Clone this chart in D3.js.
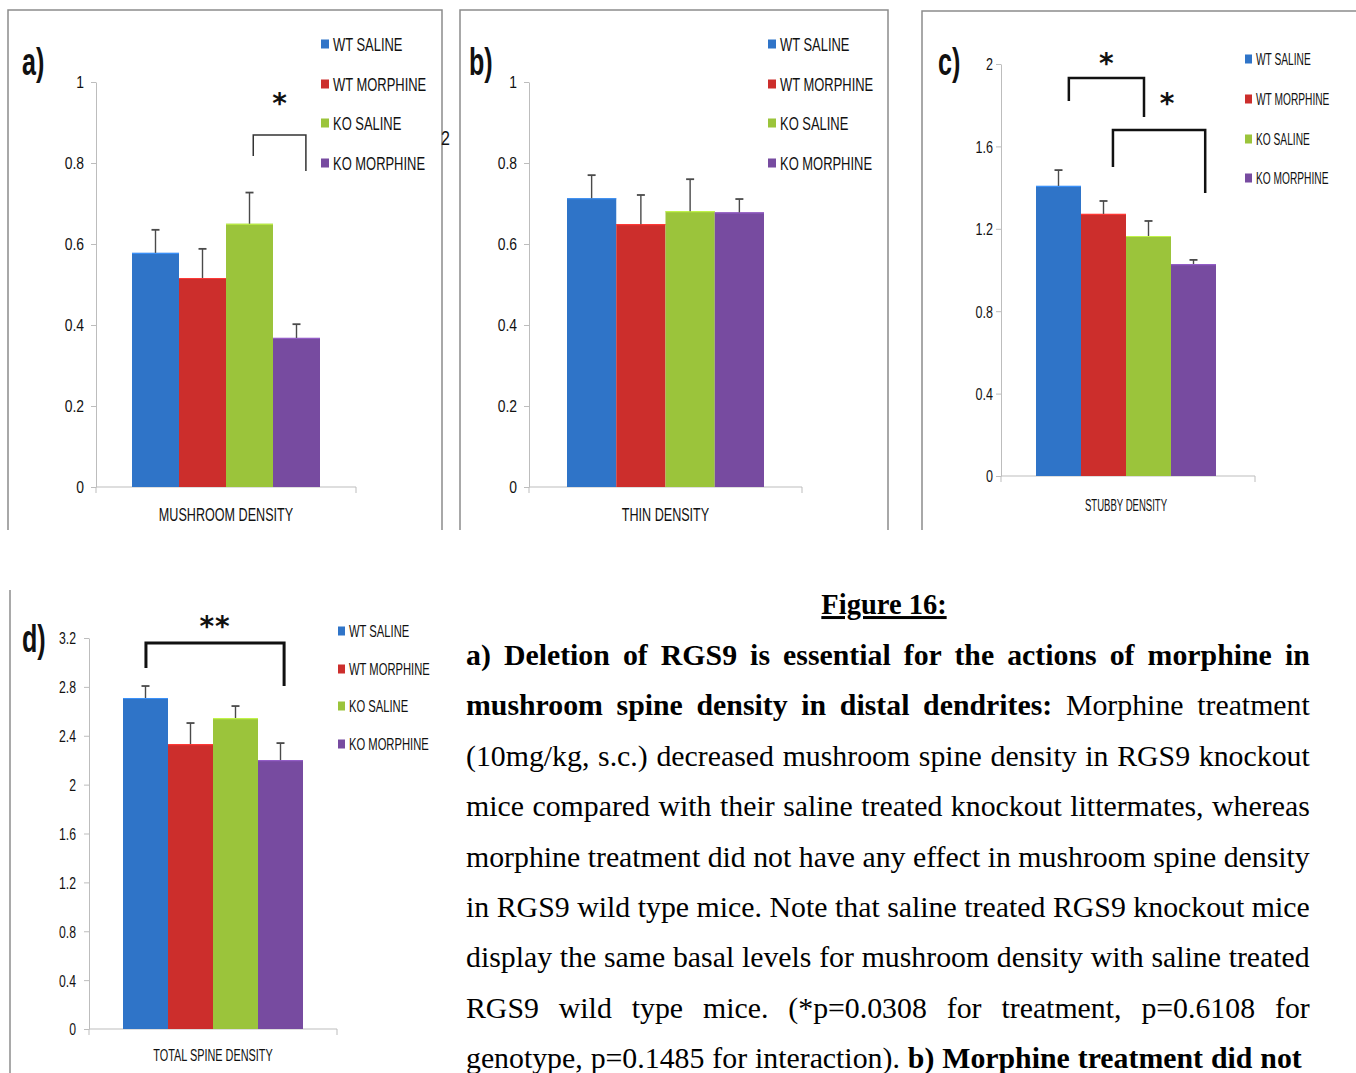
<!DOCTYPE html>
<html>
<head>
<meta charset="utf-8">
<script src="https://cdn.jsdelivr.net/npm/d3@7"></script>
<style>
  body { margin: 0; background: #fff; }
  svg { display: block; }
</style>
</head>
<body>
<div id="chart"></div>
<script>
// groups + colours
var groups = ["WT SALINE", "WT MORPHINE", "KO SALINE", "KO MORPHINE"];
var colors = ["#2f74c8", "#cc2e2c", "#9bc43b", "#774ba0"];

// values (mean, upper error)
var mushroomMean = [0.578, 0.516, 0.650, 0.368];
var mushroomErr  = [0.057, 0.072, 0.077, 0.034];
var thinMean = [0.713, 0.649, 0.681, 0.678];
var thinErr  = [0.057, 0.072, 0.079, 0.033];
var stubbyMean = [1.408, 1.272, 1.165, 1.029];
var stubbyErr  = [0.077, 0.063, 0.073, 0.020];
var totalMean = [2.709, 2.332, 2.545, 2.201];
var totalErr  = [0.098, 0.172, 0.098, 0.139];

// tick labels
var ticksAB = [0, 0.2, 0.4, 0.6, 0.8, 1];
var ticksC = [0, 0.4, 0.8, 1.2, 1.6, 2];
var ticksD = [0, 0.4, 0.8, 1.2, 1.6, 2, 2.4, 2.8, 3.2];

// caption lines, 1 = bold
var caption = [
  [["a) Deletion of RGS9 is essential for the actions of morphine in", 1]],
  [["mushroom spine density  in distal dendrites:", 1], [" Morphine treatment", 0]],
  [["(10mg/kg, s.c.) decreased mushroom spine density in RGS9 knockout", 0]],
  [["mice compared with their saline treated knockout littermates, whereas", 0]],
  [["morphine treatment did not have any effect in mushroom spine density", 0]],
  [["in RGS9 wild type mice. Note that saline treated RGS9 knockout mice", 0]],
  [["display the same basal levels for mushroom density with saline treated", 0]],
  [["RGS9 wild type mice. (*p=0.0308 for treatment, p=0.6108 for", 0]],
  [["genotype, p=0.1485 for interaction). ", 0], ["b) Morphine treatment did not", 1]]
];

var width = 1356, height = 1073;
var sans = "'Liberation Sans Narrow', 'Liberation Sans', sans-serif";

var svg = d3.select("#chart").append("svg")
  .attr("width", width)
  .attr("height", height);

svg.append("rect").attr("width", width).attr("height", height).attr("fill", "#fff");

// squeezed text helper
function txt(g, x, y, s, size, sx, anchor, weight) {
  return g.append("text")
    .attr("transform", "translate(" + x + "," + y + ") scale(" + sx + ",1)")
    .attr("text-anchor", anchor || "start")
    .attr("font-family", sans)
    .attr("font-size", size)
    .attr("font-weight", weight || "normal")
    .attr("fill", "#111")
    .text(s);
}

function panel(cfg) {
  var g = svg.append("g");

  // frame, open at the bottom (cut off in the page)
  if (cfg.frame) {
    var f = cfg.frame;
    g.append("path")
      .attr("d", "M" + f[0] + "," + f[3] + "V" + f[1] + "H" + f[2] + "V" + f[3])
      .attr("fill", "none").attr("stroke", "#8c8c8c").attr("stroke-width", 1.5);
  }

  var y = d3.scaleLinear().domain([0, cfg.max]).range([cfg.y0, cfg.yTop]);
  var x = d3.scaleBand().domain(groups).range([cfg.barL, cfg.barR]).paddingInner(0);

  // y axis
  var ya = g.append("g")
    .attr("transform", "translate(" + cfg.axisX + ",0)")
    .call(d3.axisLeft(y).tickValues(cfg.ticks).tickSizeInner(5).tickSizeOuter(0)
      .tickFormat(function (d) { return String(d) }));
  ya.select(".domain").attr("stroke", "#bdbdbd");
  ya.selectAll(".tick line").attr("stroke", "#bdbdbd");
  ya.selectAll(".tick text")
    .attr("x", null)
    .attr("transform", "translate(" + (-cfg.tickPad) + ",0) scale(" + cfg.tickSx + ",1)")
    .attr("dy", "0.35em")
    .attr("font-family", sans)
    .attr("font-size", cfg.tickSize)
    .attr("fill", "#111");

  // x axis line with end ticks
  g.append("path")
    .attr("d", "M" + cfg.axisX + "," + (cfg.y0 + 6) + "V" + cfg.y0 + "H" + cfg.xEnd + "V" + (cfg.y0 + 6))
    .attr("fill", "none").attr("stroke", "#bdbdbd").attr("stroke-width", 1);

  var rows = groups.map(function (d, i) {
    return { name: d, mean: cfg.mean[i], err: cfg.err[i], color: colors[i] };
  });

  // bars
  g.selectAll(".bar").data(rows).enter().append("rect")
    .attr("class", "bar")
    .attr("x", function (d) { return x(d.name) })
    .attr("width", x.bandwidth())
    .attr("y", function (d) { return y(d.mean) })
    .attr("height", function (d) { return cfg.y0 - y(d.mean) })
    .attr("fill", function (d) { return d.color });

  // light top edge of bars
  g.selectAll(".edge").data(rows).enter().append("line")
    .attr("x1", function (d) { return x(d.name) })
    .attr("x2", function (d) { return x(d.name) + x.bandwidth() })
    .attr("y1", function (d) { return y(d.mean) + 0.5 })
    .attr("y2", function (d) { return y(d.mean) + 0.5 })
    .attr("stroke", function (d) { return d3.color(d.color).brighter(0.6) })
    .attr("stroke-width", 1.2);

  // error bars (upper only)
  var eb = g.selectAll(".err").data(rows).enter().append("g");
  eb.append("line")
    .attr("x1", function (d) { return x(d.name) + x.bandwidth() / 2 })
    .attr("x2", function (d) { return x(d.name) + x.bandwidth() / 2 })
    .attr("y1", function (d) { return y(d.mean) })
    .attr("y2", function (d) { return y(d.mean + d.err) })
    .attr("stroke", "#4a4a4a").attr("stroke-width", 1.4);
  eb.append("line")
    .attr("x1", function (d) { return x(d.name) + x.bandwidth() / 2 - 4 })
    .attr("x2", function (d) { return x(d.name) + x.bandwidth() / 2 + 4 })
    .attr("y1", function (d) { return y(d.mean + d.err) })
    .attr("y2", function (d) { return y(d.mean + d.err) })
    .attr("stroke", "#4a4a4a").attr("stroke-width", 1.8);

  // significance brackets
  (cfg.brackets || []).forEach(function (b) {
    var xl = x(groups[b.from]) + x.bandwidth() * b.fromFrac;
    var xr = x(groups[b.to]) + x.bandwidth() * b.toFrac;
    g.append("path")
      .attr("d", "M" + xl + "," + y(b.leftEnd) + "V" + y(b.top) + "H" + xr + "V" + y(b.rightEnd))
      .attr("fill", "none").attr("stroke", b.color).attr("stroke-width", b.w);
    g.append("text")
      .attr("x", (xl + xr) / 2 + (b.starDx || 0))
      .attr("y", y(b.star) + b.starSize * 0.56)
      .attr("text-anchor", "middle")
      .attr("font-family", "'DejaVu Sans', sans-serif")
      .attr("font-weight", "bold")
      .attr("font-size", b.starSize)
      .attr("letter-spacing", b.label.length > 1 ? 1 : 0)
      .attr("fill", "#111")
      .text(b.label);
  });

  // legend
  var lg = g.selectAll(".leg").data(rows).enter().append("g")
    .attr("transform", function (d, i) { return "translate(0," + cfg.legY[i] + ")" });
  lg.append("rect")
    .attr("x", cfg.legX).attr("y", -4.5)
    .attr("width", cfg.legBox).attr("height", 9)
    .attr("fill", function (d) { return d.color });
  lg.append("text")
    .attr("transform", "translate(" + (cfg.legX + cfg.legBox + 4) + "," + (cfg.legSize * 0.36) + ") scale(" + cfg.legSx + ",1)")
    .attr("font-family", sans)
    .attr("font-size", cfg.legSize)
    .attr("fill", "#111")
    .text(function (d) { return d.name });

  // category title
  txt(g, (cfg.barL + cfg.barR) / 2, cfg.titleY, cfg.title, cfg.titleSize, cfg.titleSx, "middle");

  // panel letter
  txt(g, cfg.letter[0], cfg.letter[1], cfg.letter[2], 38, 0.66, "start", "bold");
}

panel({
  frame: [8, 10, 442, 530],
  max: 1, y0: 487, yTop: 82, axisX: 96, barL: 132, barR: 320, xEnd: 356,
  ticks: ticksAB, tickPad: 12, tickSize: 17, tickSx: 0.82,
  mean: mushroomMean, err: mushroomErr,
  legX: 321, legBox: 8, legY: [44, 84, 123, 163], legSize: 18.5, legSx: 0.7,
  title: "MUSHROOM DENSITY", titleY: 521, titleSize: 17.5, titleSx: 0.72,
  letter: [22, 75, "a)"],
  brackets: [
    { from: 2, fromFrac: 0.58, to: 3, toFrac: 0.7, top: 0.869, leftEnd: 0.817, rightEnd: 0.780,
      star: 0.963, label: "*", starSize: 28, w: 1.5, color: "#333" }
  ]
});

panel({
  frame: [460, 10, 888, 530],
  max: 1, y0: 487, yTop: 82, axisX: 529, barL: 567, barR: 764, xEnd: 802,
  ticks: ticksAB, tickPad: 12, tickSize: 17, tickSx: 0.82,
  mean: thinMean, err: thinErr,
  legX: 768, legBox: 8, legY: [44, 84, 123, 163], legSize: 18.5, legSx: 0.7,
  title: "THIN DENSITY", titleY: 521, titleSize: 17.5, titleSx: 0.72,
  letter: [469, 75, "b)"]
});

panel({
  frame: [922, 11, 1362, 530],
  max: 2, y0: 476, yTop: 64, axisX: 1001, barL: 1036, barR: 1216, xEnd: 1255,
  ticks: ticksC, tickPad: 8, tickSize: 17, tickSx: 0.74,
  mean: stubbyMean, err: stubbyErr,
  legX: 1245, legBox: 7, legY: [59, 99, 139, 178], legSize: 17, legSx: 0.6,
  title: "STUBBY DENSITY", titleY: 511, titleSize: 16.5, titleSx: 0.58,
  letter: [938, 75, "c)"],
  brackets: [
    { from: 0, fromFrac: 0.73, to: 2, toFrac: 0.4, top: 1.932, leftEnd: 1.820, rightEnd: 1.743,
      star: 2.034, label: "*", starSize: 28, w: 2.5, color: "#111" },
    { from: 1, fromFrac: 0.71, to: 3, toFrac: 0.76, top: 1.680, leftEnd: 1.50, rightEnd: 1.374,
      star: 1.84, label: "*", starSize: 28, w: 2.5, color: "#111", starDx: 8 }
  ]
});

panel({
  frame: null,
  max: 3.2, y0: 1029, yTop: 638, axisX: 89, barL: 123, barR: 303, xEnd: 337,
  ticks: ticksD, tickPad: 13, tickSize: 17, tickSx: 0.72,
  mean: totalMean, err: totalErr,
  legX: 338, legBox: 7, legY: [631, 669, 706, 744], legSize: 17, legSx: 0.66,
  title: "TOTAL SPINE DENSITY", titleY: 1061, titleSize: 16.5, titleSx: 0.66,
  letter: [22, 652, "d)"],
  brackets: [
    { from: 0, fromFrac: 0.51, to: 3, toFrac: 0.58, top: 3.159, leftEnd: 2.954, rightEnd: 2.807,
      star: 3.347, label: "**", starSize: 28, w: 3, color: "#111" }
  ]
});

// panel d only shows its left border
svg.append("line")
  .attr("x1", 10).attr("x2", 10).attr("y1", 590).attr("y2", height)
  .attr("stroke", "#8c8c8c").attr("stroke-width", 1.5);

// stray digit on panel a border
txt(svg, 441, 145, "2", 20, 0.8, "start");

// caption
var serif = "'Liberation Serif', 'Times New Roman', serif";
svg.append("text")
  .attr("x", 884).attr("y", 614)
  .attr("text-anchor", "middle")
  .attr("font-family", serif)
  .attr("font-size", 30)
  .attr("font-weight", "bold")
  .attr("text-decoration", "underline")
  .attr("transform", "translate(884,0) scale(0.95,1) translate(-884,0)")
  .text("Figure 16:");

var capLeft = 466, capRight = 1310, capTop = 665, capStep = 50.4;
var capLines = caption.map(function (parts, i) {
  var t = svg.append("text")
    .attr("x", capLeft).attr("y", capTop + i * capStep)
    .attr("font-family", serif)
    .attr("font-size", 28.5)
    .attr("fill", "#000");
  parts.forEach(function (p) {
    t.append("tspan").attr("font-weight", p[1] ? "bold" : "normal").text(p[0]);
  });
  var full = parts.map(function (p) { return p[0] }).join("").replace(/\s+/g, " ").trim();
  return {
    t: t,
    len: t.node().getComputedTextLength(),
    spaces: full.split(" ").length - 1,
    target: (i === caption.length - 1 ? 1302 : capRight) - capLeft
  };
});
// one horizontal squeeze for the whole caption so the widest line fits
var sx = d3.min(capLines, function (l) { return l.target / l.len });
capLines.forEach(function (l) {
  l.t.attr("transform", "translate(" + capLeft + ",0) scale(" + sx + ",1) translate(" + (-capLeft) + ",0)")
    .attr("word-spacing", (l.target / sx - l.len) / l.spaces);
});
</script>
</body>
</html>
